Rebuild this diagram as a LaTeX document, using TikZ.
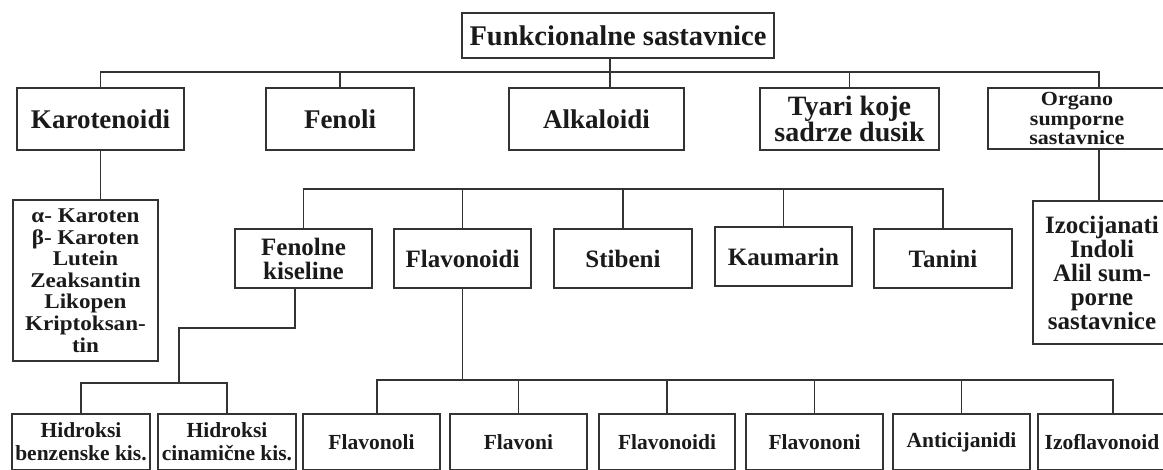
\documentclass[tikz,border=0pt]{standalone}
\usepackage{fontspec}
\setmainfont{Liberation Serif}
\newfontfamily\widefont[FakeStretch=1.1]{Liberation Serif}
\definecolor{lc}{HTML}{333333}
\definecolor{tc}{HTML}{1A1A1A}
\begin{document}
\begin{tikzpicture}[x=1pt,y=-1pt,
 box/.style={draw=lc,line width=1.6pt,inner sep=0pt,align=center,text=tc},
 ln/.style={draw=lc,line width=1.6pt},
 headf/.style={font=\bfseries\fontsize{28.5}{20}\selectfont},
 topf/.style={font=\bfseries\fontsize{27}{20}\selectfont},
 tvf/.style={font=\bfseries\fontsize{28}{22}\selectfont},
 orgf/.style={font=\widefont\bfseries\fontsize{20}{19.5}\selectfont},
 midf/.style={font=\bfseries\fontsize{25}{24}\selectfont},
 listf/.style={font=\widefont\bfseries\fontsize{21}{21.6}\selectfont},
 izof/.style={font=\bfseries\fontsize{25}{24}\selectfont},
 botf/.style={font=\bfseries\fontsize{21.5}{23}\selectfont}]
\useasboundingbox (0,0) rectangle (1163,469);
\clip (0,0) rectangle (1163,469);
% top level
\node[box,headf,minimum width=312pt,minimum height=45pt] (top) at (618,35.5) {Funkcionalne sastavnice};
\node[box,topf,minimum width=167pt,minimum height=62pt] (karot) at (100.5,119) {Karotenoidi};
\node[box,topf,minimum width=148pt,minimum height=62pt] (fenoli) at (340,119) {Fenoli};
\node[box,topf,minimum width=175pt,minimum height=62pt] (alkal) at (596.5,119) {Alkaloidi};
\node[box,tvf,minimum width=179pt,minimum height=62pt] (tvari) at (849.5,119) {Tyari koje\\sadrze dusik};
\node[box,orgf,minimum width=178pt,minimum height=61pt] (organo) at (1077,118.5) {Organo\\sumporne\\sastavnice};
% second level
\node[box,listf,minimum width=145pt,minimum height=161pt] (list) at (85.5,280.5) {α- Karoten\\β- Karoten\\Lutein\\Zeaksantin\\Likopen\\Kriptoksan-\\tin};
\node[box,izof,minimum width=138pt,minimum height=143pt] (izo) at (1102,272.5) {Izocijanati\\Indoli\\Alil sum-\\porne\\sastavnice};
\node[box,midf,minimum width=137pt,minimum height=59pt] (fenkis) at (303.5,258.5) {Fenolne\\kiseline};
\node[box,midf,minimum width=137pt,minimum height=59pt] (flavd) at (462.5,258.5) {Flavonoidi};
\node[box,midf,minimum width=138pt,minimum height=59pt] (stib) at (623,258.5) {Stibeni};
\node[box,midf,minimum width=137pt,minimum height=59pt] (kaum) at (783.5,256.5) {Kaumarin};
\node[box,midf,minimum width=138pt,minimum height=59pt] (tan) at (943,258.5) {Tanini};
% bottom level
\node[box,botf,minimum width=138pt,minimum height=56pt] (hb) at (81,442) {Hidroksi\\benzenske kis.};
\node[box,botf,minimum width=138pt,minimum height=56pt] (hc) at (227,442) {Hidroksi\\cinamične kis.};
\node[box,botf,minimum width=137pt,minimum height=56pt] (b1) at (371.5,442) {Flavonoli};
\node[box,botf,minimum width=137pt,minimum height=56pt] (b2) at (518.5,442) {Flavoni};
\node[box,botf,minimum width=136pt,minimum height=56pt] (b3) at (667,442) {Flavonoidi};
\node[box,botf,minimum width=137pt,minimum height=56pt] (b4) at (814.5,442) {Flavononi};
\node[box,botf,minimum width=137pt,minimum height=56pt] (b5) at (961.5,442) {Anticijanidi};
\node[box,botf,minimum width=128pt,minimum height=56pt] (b6) at (1102,442) {Izoflavonoid};
% helper coordinates
\coordinate (busA) at (0,72);
\coordinate (ac) at (610,0);
\coordinate (oc) at (1099,0);
\coordinate (fb) at (0,189);
\coordinate (fk) at (295,0);
\coordinate (hk) at (179,328);
\coordinate (hbus) at (0,383);
\coordinate (flb) at (0,380);
% top connectors
\draw[ln] (karot.north) -- (karot.north |- busA) -- (oc |- busA) -- (oc |- organo.north);
\draw[ln] (fenoli.north) -- (fenoli.north |- busA);
\draw[ln] (tvari.north) -- (tvari.north |- busA);
\draw[ln] (ac |- top.south) -- (ac |- alkal.north);
\draw[ln] (karot.south) -- (karot.south |- list.north);
\draw[ln] (oc |- organo.south) -- (oc |- izo.north);
% phenol bus
\draw[ln] (fenkis.north) -- (fenkis.north |- fb) -- (tan.north |- fb) -- (tan.north);
\draw[ln] (flavd.north) -- (flavd.north |- fb);
\draw[ln] (stib.north) -- (stib.north |- fb);
\draw[ln] (kaum.north) -- (kaum.north |- fb);
% phenolic acids
\draw[ln] (fk |- fenkis.south) -- (fk |- hk) -- (hk) -- (hk |- hbus);
\draw[ln] (hb.north) -- (hb.north |- hbus) -- (hc.north |- hbus) -- (hc.north);
% flavonoids
\draw[ln] (flavd.south) -- (flavd.south |- flb);
\draw[ln] ([xshift=5.5pt]b1.north) -- ([xshift=5.5pt]b1.north |- flb) -- ([xshift=11pt]b6.north |- flb) -- ([xshift=11pt]b6.north);
\draw[ln] (b2.north) -- (b2.north |- flb);
\draw[ln] (b3.north) -- (b3.north |- flb);
\draw[ln] (b4.north) -- (b4.north |- flb);
\draw[ln] (b5.north) -- (b5.north |- flb);
\end{tikzpicture}
\end{document}
